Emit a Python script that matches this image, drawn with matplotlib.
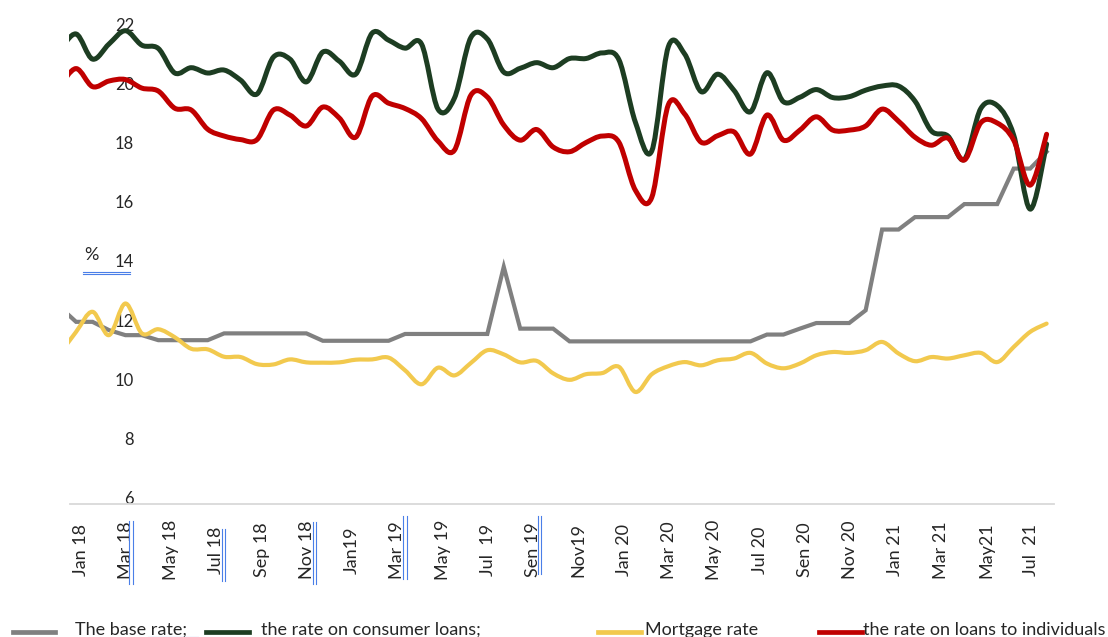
import numpy as np
import matplotlib
matplotlib.use("Agg")
import matplotlib.pyplot as plt
from matplotlib.path import Path
from matplotlib.patches import PathPatch
from matplotlib.lines import Line2D

plt.rcParams['font.family'] = ['Lato', 'DejaVu Sans']

# ---------------- data ----------------
base_rate = [12.45, 11.94, 11.94, 11.66, 11.49, 11.49, 11.32, 11.32, 11.32, 11.32,
             11.55, 11.55, 11.55, 11.55, 11.55, 11.55, 11.30, 11.30, 11.30, 11.30,
             11.30, 11.53, 11.53, 11.53, 11.53, 11.53, 11.53, 13.80, 11.71, 11.71,
             11.71, 11.28, 11.28, 11.28, 11.28, 11.28, 11.28, 11.28, 11.28, 11.28,
             11.28, 11.28, 11.28, 11.51, 11.51, 11.71, 11.90, 11.90, 11.90, 12.33,
             15.06, 15.06, 15.48, 15.48, 15.48, 15.92, 15.92, 15.92, 17.12, 17.12,
             17.69]

consumer_loans = [21.10, 21.67, 20.82, 21.33, 21.78, 21.29, 21.18, 20.35, 20.53, 20.35,
                  20.45, 20.11, 19.64, 20.89, 20.82, 20.05, 21.06, 20.75, 20.31, 21.70,
                  21.46, 21.19, 21.33, 19.13, 19.50, 21.55, 21.50, 20.38, 20.51, 20.70,
                  20.53, 20.84, 20.84, 21.03, 20.80, 18.69, 17.72, 21.23, 20.99, 19.72,
                  20.31, 19.76, 19.04, 20.36, 19.38, 19.53, 19.79, 19.52, 19.55, 19.77,
                  19.91, 19.91, 19.40, 18.39, 18.22, 17.43, 19.15, 19.25, 18.25, 15.75,
                  17.95]

mortgage = [10.85, 11.60, 12.28, 11.49, 12.56, 11.55, 11.69, 11.42, 11.03, 11.01,
            10.76, 10.75, 10.51, 10.50, 10.67, 10.57, 10.56, 10.57, 10.66, 10.67,
            10.73, 10.30, 9.83, 10.39, 10.13, 10.55, 10.98, 10.84, 10.57, 10.62,
            10.20, 9.98, 10.17, 10.21, 10.42, 9.57, 10.17, 10.44, 10.58, 10.47,
            10.64, 10.70, 10.89, 10.53, 10.37, 10.53, 10.81, 10.92, 10.89, 10.98,
            11.26, 10.87, 10.61, 10.75, 10.70, 10.81, 10.89, 10.58, 11.09, 11.60,
            11.88]

individuals = [19.90, 20.50, 19.89, 20.08, 20.13, 19.84, 19.74, 19.16, 19.10, 18.45,
               18.22, 18.10, 18.10, 19.10, 18.93, 18.56, 19.20, 18.83, 18.18, 19.57,
               19.33, 19.15, 18.81, 18.05, 17.74, 19.60, 19.54, 18.59, 18.08, 18.44,
               17.85, 17.69, 18.00, 18.22, 18.01, 16.39, 16.15, 19.27, 18.96, 18.01,
               18.23, 18.36, 17.61, 18.93, 18.08, 18.42, 18.87, 18.42, 18.42, 18.56,
               19.13, 18.72, 18.18, 17.91, 18.15, 17.41, 18.67, 18.66, 18.08, 16.56,
               18.28]

x_labels = ["Jan 18", "Mar 18", "May 18", "Jul 18", "Sep 18", "Nov 18", "Jan19",
            "Mar 19", "May 19", "Jul  19", "Sen 19", "Nov19", "Jan 20", "Mar 20",
            "May 20", "Jul 20", "Sen 20", "Nov 20", "Jan 21", "Mar 21", "May21",
            "Jul  21"]
y_ticks = [6, 8, 10, 12, 14, 16, 18, 20, 22]

legend_labels = ["The base rate;", "the rate on consumer loans;",
                 "Mortgage rate", "the rate on loans to individuals"]

# ---------------- styles ----------------
C_GRAY = '#808080'
C_GREEN = '#1D3D22'
C_YELLOW = '#F2C94E'
C_RED = '#C00000'
C_TEXT = '#262626'
C_BLUE = '#4A7FE8'

W, H = 1108, 637
fig = plt.figure(figsize=(W / 100, H / 100), dpi=100)
ax = fig.add_axes([69 / W, (H - 503.5) / H, 985 / W, 493.5 / H])
ax.set_xlim(-0.43, 59.45)
ax.set_ylim(5.8, 22.48)
for s in ax.spines.values():
    s.set_visible(False)
ax.set_axisbelow(True)

x = np.arange(len(base_rate)) - 1.0


def smooth_patch(xs, ys, color, lw, z):
    pts = np.column_stack([xs, ys])
    n = len(pts)
    verts = [pts[0]]
    codes = [Path.MOVETO]
    for i in range(n - 1):
        p0 = pts[i - 1] if i > 0 else pts[i]
        p1 = pts[i]
        p2 = pts[i + 1]
        p3 = pts[i + 2] if i + 2 < n else pts[i + 1]
        c1 = p1 + (p2 - p0) / 6.0
        c2 = p2 - (p3 - p1) / 6.0
        verts += [c1, c2, p2]
        codes += [Path.CURVE4] * 3
    patch = PathPatch(Path(verts, codes), fill=False, edgecolor=color, lw=lw,
                      capstyle='round', joinstyle='round', zorder=z)
    ax.add_patch(patch)


ax.plot(x, base_rate, color=C_GRAY, lw=3.0, zorder=2, solid_joinstyle='miter')
smooth_patch(x, consumer_loans, C_GREEN, 3.6, 3)
smooth_patch(x, mortgage, C_YELLOW, 3.0, 4)
smooth_patch(x, individuals, C_RED, 3.6, 5)

# x axis line
ax.plot([0.001, 1.0], [0, 0], transform=ax.transAxes, color='#D9D9D9',
        lw=1.3, clip_on=False, zorder=1)

# x tick labels (evenly spaced date labels)
tick_pos = 0.27 + np.arange(len(x_labels)) * 2.752
ax.set_xticks(tick_pos)
ax.set_xticklabels(x_labels, rotation=90, fontsize=13, color=C_TEXT)
ax.tick_params(axis='x', length=0, pad=33.4)
for lab in ax.get_xticklabels():
    lab.set_va('center')
    lab.set_ha('center')

# y tick labels (drawn inside the plot area, under the lines)
ax.set_yticks(y_ticks)
ax.set_yticklabels([str(v) for v in y_ticks], fontsize=12, color=C_TEXT)
ax.tick_params(axis='y', length=0, pad=-46.8)

fig.text(91 / W, 1 - 255 / H, '%', fontsize=13, color=C_TEXT,
         ha='center', va='center')


def fline(x0, y0, x1, y1, color, lw):
    fig.add_artist(Line2D([x0 / W, x1 / W], [1 - y0 / H, 1 - y1 / H],
                          transform=fig.transFigure, color=color, lw=lw))


# double underline under "% 14"
fline(83, 271.5, 130, 271.5, C_BLUE, 0.8)
fline(83, 274, 130, 274, C_BLUE, 0.8)
# proofing marks beside some month labels
for (xm, y0, y1) in [(129, 521, 584), (221.5, 529, 581), (312.5, 522, 584),
                     (403, 516, 579), (537.5, 516, 574)]:
    fline(xm, y0, xm, y1, C_BLUE, 0.8)
    fline(xm + 3.5, y0, xm + 3.5, y1, C_BLUE, 0.8)

# legend (manually placed)
leg_items = [(12.5, 55, 75, C_GRAY), (206, 249, 261, C_GREEN),
             (598, 641, 645, C_YELLOW), (819, 862, 863, C_RED)]
for (lx0, lx1, tx, col), lab in zip(leg_items, legend_labels):
    fline(lx0, 632, lx1, 632, col, 3.4)
    fig.text(tx / W, 1 - 630 / H, lab, fontsize=13, color=C_TEXT,
             ha='left', va='center')
fline(148, 637, 198, 637, C_BLUE, 0.8)

fig.savefig('out.png', dpi=100, facecolor='white')
